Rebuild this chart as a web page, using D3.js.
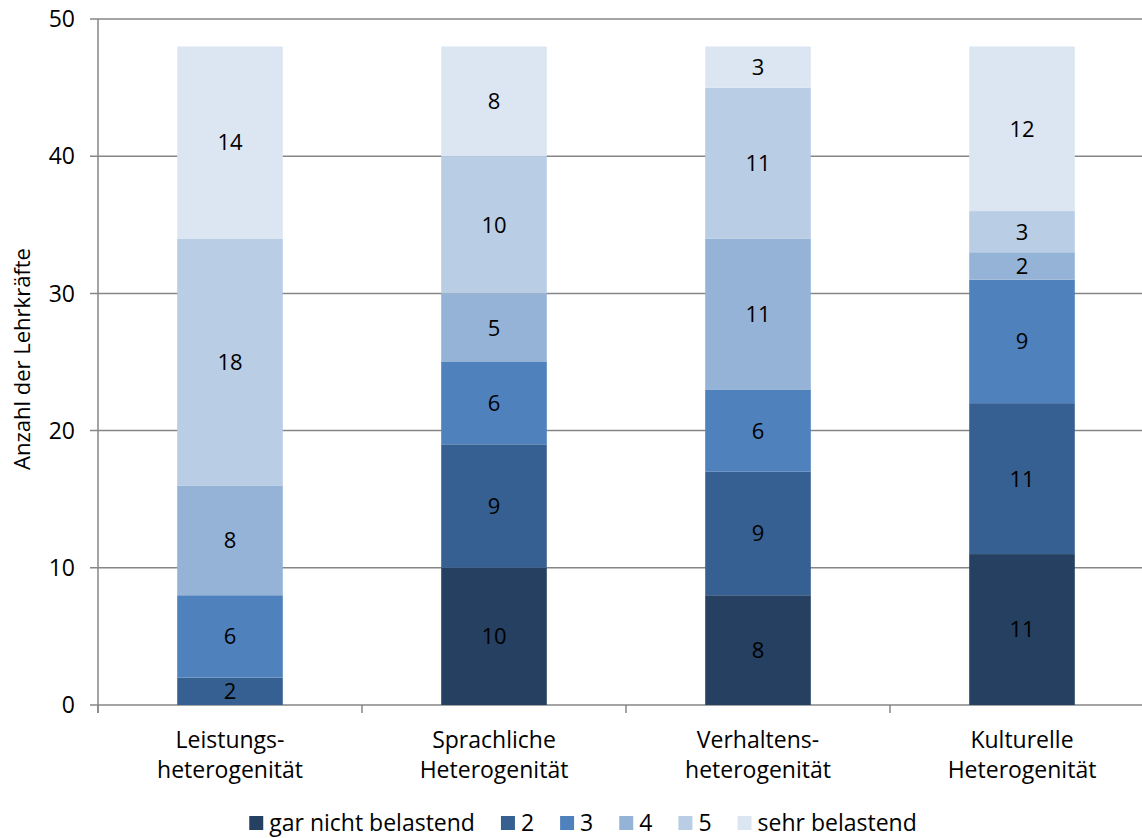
<!doctype html>
<html>
<head>
<meta charset="utf-8">
<script src="https://d3js.org/d3.v7.min.js"></script>
<style>
  body { margin: 0; background: #fff; }
  text { font-family: "Open Sans", sans-serif; fill: #000; }
</style>
</head>
<body>
<script>
  // data
  var categories = [["Leistungs-", "heterogenität"], ["Sprachliche", "Heterogenität"], ["Verhaltens-", "heterogenität"], ["Kulturelle", "Heterogenität"]];
  var seriesNames = ["gar nicht belastend", "2", "3", "4", "5", "sehr belastend"];
  var garNicht = [0, 10, 8, 11];
  var stufe2 = [2, 9, 9, 11];
  var stufe3 = [6, 6, 6, 9];
  var stufe4 = [8, 5, 11, 2];
  var stufe5 = [18, 10, 11, 3];
  var sehr = [14, 8, 3, 12];
  var yTicks = [0, 10, 20, 30, 40, 50];
  var colors = ["#254061", "#366092", "#4F81BD", "#95B3D7", "#B9CDE5", "#DCE6F2"];

  var values = [garNicht, stufe2, stufe3, stufe4, stufe5, sehr];
  var rows = categories.map(function(c, i){
    var r = { key: i };
    seriesNames.forEach(function(s, j){ r[s] = values[j][i]; });
    return r;
  });

  var width = 1142, height = 838;
  var plotLeft = 98, plotTop = 19, plotBottom = 705;

  var svg = d3.select("body").append("svg").attr("width", width).attr("height", height);

  var x = d3.scaleBand().domain(d3.range(categories.length)).range([plotLeft, plotLeft + 264 * 4]).paddingInner(0.6).paddingOuter(0.3);
  var y = d3.scaleLinear().domain([0, 50]).range([plotBottom, plotTop]);

  // grid
  svg.append("g").selectAll("line").data(yTicks).enter().append("line")
    .attr("x1", plotLeft - 8).attr("x2", width)
    .attr("y1", function(d){ return y(d); }).attr("y2", function(d){ return y(d); })
    .attr("stroke", "#868686").attr("stroke-width", 1.5);

  // y axis
  svg.append("line").attr("x1", plotLeft).attr("x2", plotLeft).attr("y1", plotTop).attr("y2", plotBottom + 8)
    .attr("stroke", "#868686").attr("stroke-width", 1.5);
  svg.append("g").selectAll("text").data(yTicks).enter().append("text")
    .attr("x", 75).attr("y", function(d){ return y(d); }).attr("dy", "0.36em")
    .attr("text-anchor", "end").style("font-size", "23px").text(function(d){ return d; });

  svg.append("text").attr("transform", "translate(30," + 359 + ") rotate(-90)")
    .attr("text-anchor", "middle").style("font-size", "22px").text("Anzahl der Lehrkräfte");

  // x ticks
  var step = x.step();
  svg.append("g").selectAll("line").data(d3.range(categories.length + 1)).enter().append("line")
    .attr("x1", function(d){ return plotLeft + step * d; }).attr("x2", function(d){ return plotLeft + step * d; })
    .attr("y1", plotBottom).attr("y2", plotBottom + 8)
    .attr("stroke", "#868686").attr("stroke-width", 1.5);

  // bars
  var stack = d3.stack().keys(seriesNames)(rows);
  var layers = svg.append("g").selectAll("g").data(stack).enter().append("g")
    .attr("fill", function(d, i){ return colors[i]; });
  layers.selectAll("rect").data(function(d){ return d; }).enter().append("rect")
    .attr("x", function(d){ return x(d.data.key); })
    .attr("width", x.bandwidth())
    .attr("y", function(d){ return y(d[1]); })
    .attr("height", function(d){ return y(d[0]) - y(d[1]); });

  // value labels
  layers.selectAll("text").data(function(d){ return d.filter(function(p){ return p[1] - p[0] > 0; }); }).enter().append("text")
    .attr("x", function(d){ return x(d.data.key) + x.bandwidth() / 2; })
    .attr("y", function(d){ return (y(d[0]) + y(d[1])) / 2; })
    .attr("dy", "0.36em").attr("text-anchor", "middle").style("font-size", "22px").style("fill", "#000")
    .text(function(d){ return d[1] - d[0]; });

  // category labels
  var cat = svg.append("g").selectAll("text").data(categories).enter().append("text")
    .attr("x", function(d, i){ return x(i) + x.bandwidth() / 2; })
    .attr("y", 748).attr("text-anchor", "middle").style("font-size", "23px");
  cat.append("tspan").text(function(d){ return d[0]; });
  cat.append("tspan").attr("x", function(d, i){ return x(i) + x.bandwidth() / 2; }).attr("dy", 30).text(function(d){ return d[1]; });

  // legend
  var legend = svg.append("g");
  var lx = 0;
  seriesNames.forEach(function(s, i){
    var g = legend.append("g").attr("transform", "translate(" + lx + ",0)");
    g.append("rect").attr("x", 0).attr("y", -15).attr("width", 14).attr("height", 14).attr("fill", colors[i]);
    var t = g.append("text").attr("x", 20).attr("y", 0).style("font-size", "23px").text(s);
    lx += 20 + t.node().getComputedTextLength() + 26;
  });
  var total = lx - 26;
  legend.attr("transform", "translate(" + (583 - total / 2) + ",831)");
</script>
</body>
</html>
